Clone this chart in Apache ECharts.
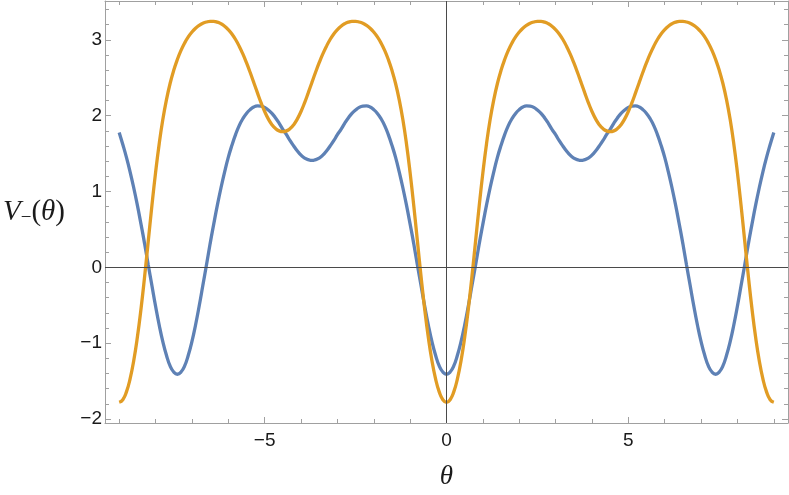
<!DOCTYPE html>
<html>
<head>
<meta charset="utf-8">
<script src="https://cdn.jsdelivr.net/npm/echarts@6/dist/echarts.min.js"></script>
<style>
html,body{margin:0;padding:0;background:#fff;}
#chart{width:789px;height:495px;}
</style>
</head>
<body>
<div id="chart"></div>
<script>
// ---- data (theta step 0.1) ----
const thetaValues = [
  -9, -8.9, -8.8, -8.7, -8.6, -8.5, -8.4, -8.3, -8.2, -8.1,
  -8, -7.9, -7.8, -7.7, -7.6, -7.5, -7.4, -7.3, -7.2, -7.1,
  -7, -6.9, -6.8, -6.7, -6.6, -6.5, -6.4, -6.3, -6.2, -6.1,
  -6, -5.9, -5.8, -5.7, -5.6, -5.5, -5.4, -5.3, -5.2, -5.1,
  -5, -4.9, -4.8, -4.7, -4.6, -4.5, -4.4, -4.3, -4.2, -4.1,
  -4, -3.9, -3.8, -3.7, -3.6, -3.5, -3.4, -3.3, -3.2, -3.1,
  -3, -2.9, -2.8, -2.7, -2.6, -2.5, -2.4, -2.3, -2.2, -2.1,
  -2, -1.9, -1.8, -1.7, -1.6, -1.5, -1.4, -1.3, -1.2, -1.1,
  -1, -0.9, -0.8, -0.7, -0.6, -0.5, -0.4, -0.3, -0.2, -0.1,
  0,
  0.1, 0.2, 0.3, 0.4, 0.5, 0.6, 0.7, 0.8, 0.9, 1,
  1.1, 1.2, 1.3, 1.4, 1.5, 1.6, 1.7, 1.8, 1.9, 2,
  2.1, 2.2, 2.3, 2.4, 2.5, 2.6, 2.7, 2.8, 2.9, 3,
  3.1, 3.2, 3.3, 3.4, 3.5, 3.6, 3.7, 3.8, 3.9, 4,
  4.1, 4.2, 4.3, 4.4, 4.5, 4.6, 4.7, 4.8, 4.9, 5,
  5.1, 5.2, 5.3, 5.4, 5.5, 5.6, 5.7, 5.8, 5.9, 6,
  6.1, 6.2, 6.3, 6.4, 6.5, 6.6, 6.7, 6.8, 6.9, 7,
  7.1, 7.2, 7.3, 7.4, 7.5, 7.6, 7.7, 7.8, 7.9, 8,
  8.1, 8.2, 8.3, 8.4, 8.5, 8.6, 8.7, 8.8, 8.9, 9
];
const blueValues = [
  1.78, 1.62, 1.45, 1.26, 1.05, 0.82, 0.57, 0.31, 0.03, -0.24,
  -0.51, -0.76, -0.98, -1.16, -1.30, -1.38, -1.41, -1.38, -1.30, -1.16,
  -0.98, -0.76, -0.51, -0.24, 0.03, 0.31, 0.57, 0.82, 1.05, 1.26,
  1.45, 1.61, 1.75, 1.87, 1.96, 2.03, 2.08, 2.115, 2.13, 2.127,
  2.11, 2.075, 2.03, 1.97, 1.90, 1.82, 1.75, 1.67, 1.60, 1.535,
  1.48, 1.44, 1.42, 1.41, 1.42, 1.44, 1.48, 1.535, 1.60, 1.67,
  1.75, 1.82, 1.90, 1.97, 2.03, 2.075, 2.11, 2.127, 2.13, 2.115,
  2.08, 2.03, 1.96, 1.87, 1.75, 1.61, 1.45, 1.26, 1.05, 0.82,
  0.57, 0.31, 0.03, -0.24, -0.51, -0.76, -0.98, -1.16, -1.30, -1.38,
  -1.41,
  -1.38, -1.30, -1.16, -0.98, -0.76, -0.51, -0.24, 0.03, 0.31, 0.57,
  0.82, 1.05, 1.26, 1.45, 1.61, 1.75, 1.87, 1.96, 2.03, 2.08,
  2.115, 2.13, 2.127, 2.11, 2.075, 2.03, 1.97, 1.90, 1.82, 1.75,
  1.67, 1.60, 1.535, 1.48, 1.44, 1.42, 1.41, 1.42, 1.44, 1.48,
  1.535, 1.60, 1.67, 1.75, 1.82, 1.90, 1.97, 2.03, 2.075, 2.11,
  2.127, 2.13, 2.115, 2.08, 2.03, 1.96, 1.87, 1.75, 1.61, 1.45,
  1.26, 1.05, 0.82, 0.57, 0.31, 0.03, -0.24, -0.51, -0.76, -0.98,
  -1.16, -1.30, -1.38, -1.41, -1.38, -1.30, -1.16, -0.98, -0.76, -0.51,
  -0.24, 0.03, 0.31, 0.57, 0.82, 1.05, 1.26, 1.45, 1.62, 1.78
];
const orangeValues = [
  -1.78, -1.746, -1.643, -1.471, -1.231, -0.923, -0.549, -0.119, 0.347, 0.814,
  1.246, 1.628, 1.949, 2.211, 2.425, 2.599, 2.742, 2.861, 2.959, 3.039,
  3.103, 3.154, 3.192, 3.219, 3.236, 3.244, 3.244, 3.234, 3.213, 3.181,
  3.136, 3.078, 3.005, 2.917, 2.815, 2.699, 2.573, 2.439, 2.304, 2.173,
  2.056, 1.958, 1.882, 1.830, 1.800, 1.790, 1.800, 1.830, 1.882, 1.958,
  2.056, 2.173, 2.304, 2.439, 2.573, 2.699, 2.815, 2.917, 3.005, 3.078,
  3.136, 3.181, 3.213, 3.234, 3.244, 3.244, 3.236, 3.219, 3.192, 3.154,
  3.103, 3.039, 2.959, 2.861, 2.742, 2.599, 2.425, 2.211, 1.949, 1.628,
  1.246, 0.814, 0.347, -0.119, -0.549, -0.923, -1.231, -1.471, -1.643, -1.746,
  -1.78,
  -1.746, -1.643, -1.471, -1.231, -0.923, -0.549, -0.119, 0.347, 0.814, 1.246,
  1.628, 1.949, 2.211, 2.425, 2.599, 2.742, 2.861, 2.959, 3.039, 3.103,
  3.154, 3.192, 3.219, 3.236, 3.244, 3.244, 3.234, 3.213, 3.181, 3.136,
  3.078, 3.005, 2.917, 2.815, 2.699, 2.573, 2.439, 2.304, 2.173, 2.056,
  1.958, 1.882, 1.830, 1.800, 1.790, 1.800, 1.830, 1.882, 1.958, 2.056,
  2.173, 2.304, 2.439, 2.573, 2.699, 2.815, 2.917, 3.005, 3.078, 3.136,
  3.181, 3.213, 3.234, 3.244, 3.244, 3.236, 3.219, 3.192, 3.154, 3.103,
  3.039, 2.959, 2.861, 2.742, 2.599, 2.425, 2.211, 1.949, 1.628, 1.246,
  0.814, 0.347, -0.119, -0.549, -0.923, -1.231, -1.471, -1.643, -1.746, -1.78
];
const xMajorTicks = [-5, 0, 5];
const xMinorTicks = [-9, -8, -7, -6, -4, -3, -2, -1, 1, 2, 3, 4, 6, 7, 8, 9];
const yMajorTicks = [-2, -1, 0, 1, 2, 3];
const yMinorTicks = [-1.8, -1.6, -1.4, -1.2, -0.8, -0.6, -0.4, -0.2, 0.2, 0.4, 0.6, 0.8,
  1.2, 1.4, 1.6, 1.8, 2.2, 2.4, 2.6, 2.8, 3.2, 3.4];
const xLabel = 'θ';

// ---- chart ----
const X_MIN = -9.39, X_MAX = 9.39;
const Y_MIN = -2.053, Y_MAX = 3.513;
const FRAME = '#a0a0a0';
const TEXT = '#1a1a1a';
const fmt = v => (v < 0 ? '\u2212' + Math.abs(v) : String(v));

function xAx(pos, ticks, len, withLine, withLabel) {
  return {
    type: 'value', position: pos, min: X_MIN, max: X_MAX,
    splitLine: { show: false },
    axisLine: { show: withLine, onZero: false, lineStyle: { color: FRAME, width: 1 } },
    axisTick: { show: true, inside: true, length: len, customValues: ticks, lineStyle: { color: FRAME, width: 1 } },
    axisLabel: withLabel
      ? { show: true, customValues: ticks, formatter: fmt, fontSize: 19, color: TEXT, margin: 8, fontFamily: 'Liberation Sans' }
      : { show: false }
  };
}
function yAx(pos, ticks, len, withLine, withLabel) {
  return {
    type: 'value', position: pos, min: Y_MIN, max: Y_MAX,
    splitLine: { show: false },
    axisLine: { show: withLine, onZero: false, lineStyle: { color: FRAME, width: 1 } },
    axisTick: { show: true, inside: true, length: len, customValues: ticks, lineStyle: { color: FRAME, width: 1 } },
    axisLabel: withLabel
      ? { show: true, customValues: ticks, formatter: fmt, fontSize: 19, color: TEXT, margin: 3, fontFamily: 'Liberation Sans' }
      : { show: false }
  };
}

const xAxes = [
  xAx('bottom', xMajorTicks, 6, true, true),
  xAx('bottom', xMinorTicks, 4, false, false),
  xAx('top', xMajorTicks, 6, true, false),
  xAx('top', xMinorTicks, 4, false, false)
];
Object.assign(xAxes[0], {
  name: xLabel, nameLocation: 'middle', nameGap: 40,
  nameTextStyle: { fontFamily: 'Liberation Serif', fontStyle: 'italic', fontSize: 27, color: TEXT }
});
const yAxes = [
  yAx('left', yMajorTicks, 6, true, true),
  yAx('left', yMinorTicks, 4, false, false),
  yAx('right', yMajorTicks, 6, true, false),
  yAx('right', yMinorTicks, 4, false, false)
];
Object.assign(yAxes[0], {
  name: '{v|V}{s|\u2212}{p|(}{t|θ}{p|)}', nameLocation: 'middle', nameGap: 40, nameRotate: 0,
  nameTextStyle: {
    color: TEXT,
    rich: {
      v: { fontFamily: 'Liberation Serif', fontStyle: 'italic', fontSize: 29, lineHeight: 32, color: TEXT },
      s: { fontFamily: 'Liberation Serif', fontSize: 19, lineHeight: 19, verticalAlign: 'bottom', color: TEXT },
      p: { fontFamily: 'Liberation Serif', fontSize: 29, lineHeight: 32, color: TEXT },
      t: { fontFamily: 'Liberation Serif', fontStyle: 'italic', fontSize: 29, lineHeight: 32, color: TEXT }
    }
  }
});

const pairs = vals => thetaValues.map((t, i) => [t, vals[i]]);

const option = {
  animation: false,
  grid: { left: 102, right: 1, top: 1, bottom: 71, containLabel: false },
  xAxis: xAxes,
  yAxis: yAxes,
  series: [
    {
      type: 'line', name: 'blue', xAxisIndex: 0, yAxisIndex: 0,
      data: pairs(blueValues), smooth: 0.5, showSymbol: false,
      lineStyle: { color: '#5E81B5', width: 3.3 }, itemStyle: { color: '#5E81B5' }
    },
    {
      type: 'line', name: 'orange', xAxisIndex: 0, yAxisIndex: 0,
      data: pairs(orangeValues), smooth: 0.5, showSymbol: false,
      lineStyle: { color: '#E19C24', width: 3.3 }, itemStyle: { color: '#E19C24' },
      markLine: {
        silent: true, symbol: 'none', animation: false,
        label: { show: false },
        lineStyle: { color: '#4a4a4a', width: 1, type: 'solid' },
        emphasis: { disabled: true },
        data: [{ yAxis: 0 }, { xAxis: 0 }]
      }
    }
  ]
};
echarts.init(document.getElementById('chart')).setOption(option);
</script>
</body>
</html>
